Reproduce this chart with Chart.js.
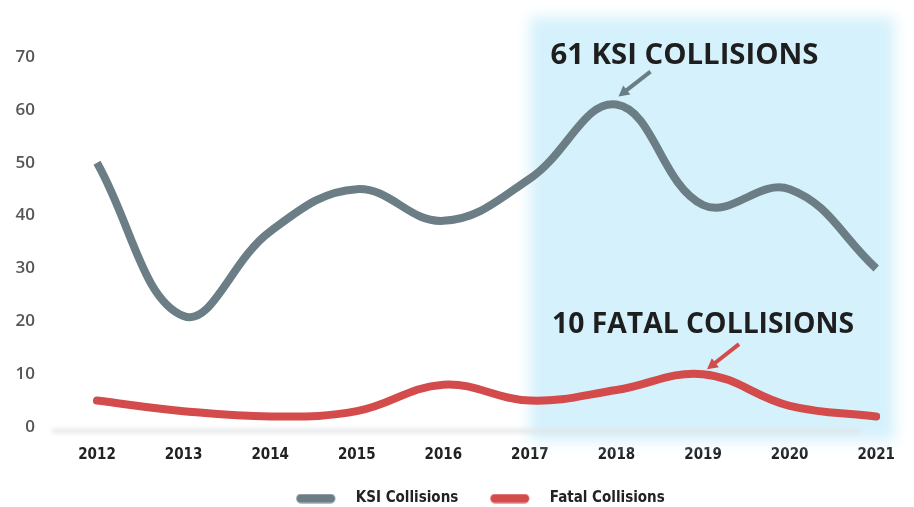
<!DOCTYPE html>
<html>
<head>
<meta charset="utf-8">
<script src="https://cdn.jsdelivr.net/npm/chart.js@4.4.0/dist/chart.umd.min.js"></script>
<style>
  html, body { margin: 0; padding: 0; background: #ffffff; }
  #wrap { width: 914px; height: 507px; position: relative; }
</style>
</head>
<body>
<div id="wrap"><canvas id="c" width="914" height="507"></canvas></div>
<script>
const years = ['2012','2013','2014','2015','2016','2017','2018','2019','2020','2021'];
const ksiCollisions = [50, 21, 37, 45, 39, 47, 61, 42, 45, 30];
const fatalCollisions = [5, 3, 2, 3, 8, 5, 7, 10, 4, 2];
const yTicks = [0, 10, 20, 30, 40, 50, 60, 70];
const ksiLabel = '61 KSI COLLISIONS';
const fatalLabel = '10 FATAL COLLISIONS';

const KSI_COLOR = '#6c7e85';
const FATAL_COLOR = '#d34b4b';
const COND = '"DejaVu Sans Condensed", "Open Sans", sans-serif';

function legendPill(color) {
  const c = document.createElement('canvas');
  c.width = 76; c.height = 10;
  const g = c.getContext('2d');
  g.fillStyle = color;
  g.beginPath();
  g.roundRect(24, 0.5, 39, 9, 4.5);
  g.fill();
  return c;
}

const decor = {
  id: 'decor',
  afterLayout(chart) {
    if (chart.legend) { chart.legend.left += 30; chart.legend.right += 30; }
  },
  beforeDatasetsDraw(chart) {
    const ctx = chart.ctx;
    const x = chart.scales.x, y = chart.scales.y;
    const left = x.getPixelForValue(5);
    const right = x.getPixelForValue(9) + 18;
    const top = y.getPixelForValue(70) - 40;
    const bottom = y.getPixelForValue(0) + 14;
    ctx.save();
    ctx.filter = 'blur(7px)';
    ctx.fillStyle = '#d5f1fc';
    ctx.fillRect(left, top, right - left, bottom - top);
    ctx.restore();
    ctx.save();
    ctx.filter = 'blur(2px)';
    ctx.fillStyle = '#e2e4e6';
    const by = y.getPixelForValue(0) + 4;
    ctx.fillRect(x.getPixelForValue(0) - 45, by - 2, x.getPixelForValue(9) - x.getPixelForValue(0) + 30, 4);
    ctx.restore();
  },
  afterDatasetsDraw(chart) {
    const ctx = chart.ctx;
    const x = chart.scales.x, y = chart.scales.y;
    ctx.save();
    ctx.fillStyle = '#1e1e1e';
    ctx.textBaseline = 'alphabetic';
    ctx.textAlign = 'left';
    ctx.font = 'bold 28px "Open Sans", sans-serif';
    const kx = x.getPixelForValue(6), ky = y.getPixelForValue(61);
    drawFit(ctx, ksiLabel, kx - 66, 64, 268);
    arrow(ctx, kx + 34, ky - 33, kx + 2, ky - 8, KSI_COLOR);
    const fx = x.getPixelForValue(7), fy = y.getPixelForValue(10);
    ctx.fillStyle = '#1e1e1e';
    drawFit(ctx, fatalLabel, fx - 151, 333, 302);
    arrow(ctx, fx + 36, fy - 30, fx + 4, fy - 5, FATAL_COLOR);
    ctx.restore();
  }
};
function drawFit(ctx, text, x0, baseline, w) {
  const m = ctx.measureText(text).width;
  ctx.save();
  ctx.translate(x0, baseline);
  ctx.scale(w / m, 1);
  ctx.fillText(text, 0, 0);
  ctx.restore();
}
function arrow(ctx, x1, y1, x2, y2, color) {
  const ang = Math.atan2(y2 - y1, x2 - x1);
  const head = 12;
  ctx.save();
  ctx.strokeStyle = color;
  ctx.fillStyle = color;
  ctx.lineWidth = 4;
  ctx.beginPath();
  ctx.moveTo(x1, y1);
  ctx.lineTo(x2 - Math.cos(ang) * head * 0.8, y2 - Math.sin(ang) * head * 0.8);
  ctx.stroke();
  ctx.beginPath();
  ctx.moveTo(x2, y2);
  ctx.lineTo(x2 - head * Math.cos(ang - 0.5), y2 - head * Math.sin(ang - 0.5));
  ctx.lineTo(x2 - head * Math.cos(ang + 0.5), y2 - head * Math.sin(ang + 0.5));
  ctx.closePath();
  ctx.fill();
  ctx.restore();
}

new Chart(document.getElementById('c'), {
  type: 'line',
  data: {
    labels: years,
    datasets: [
      { label: 'KSI Collisions', data: ksiCollisions, borderColor: KSI_COLOR, backgroundColor: KSI_COLOR,
        borderWidth: 8, tension: 0.4, pointRadius: 0, borderCapStyle: 'butt', pointStyle: legendPill(KSI_COLOR) },
      { label: 'Fatal Collisions', data: fatalCollisions, borderColor: FATAL_COLOR, backgroundColor: FATAL_COLOR,
        borderWidth: 8, tension: 0.4, pointRadius: 0, borderCapStyle: 'round', pointStyle: legendPill(FATAL_COLOR) }
    ]
  },
  options: {
    responsive: false,
    animation: false,
    devicePixelRatio: 1,
    layout: { padding: { top: 57, right: 37, left: 0, bottom: -9 } },
    plugins: {
      tooltip: { enabled: false },
      legend: {
        position: 'bottom',
        labels: {
          usePointStyle: true, pointStyleWidth: 76, boxHeight: 10,
          padding: 8,
          color: '#222',
          font: { family: COND, size: 15, weight: 'bold' }
        }
      }
    },
    scales: {
      x: {
        offset: false,
        grid: { display: false, drawTicks: false },
        border: { display: false },
        ticks: { color: '#222', padding: 19, maxRotation: 0,
          font: { family: COND, size: 15, weight: 'bold' } }
      },
      y: {
        min: 0, max: 70,
        afterFit(s) { s.width = 97; s.paddingTop = 0; s.paddingBottom = 0; },
        afterBuildTicks(s) { s.ticks = yTicks.map(v => ({ value: v })); },
        grid: { display: false, drawTicks: false },
        border: { display: false },
        ticks: { color: '#555', padding: 62,
          font: { family: '"Open Sans", sans-serif', size: 17, weight: '600' } }
      }
    }
  },
  plugins: [decor]
});
</script>
</body>
</html>
